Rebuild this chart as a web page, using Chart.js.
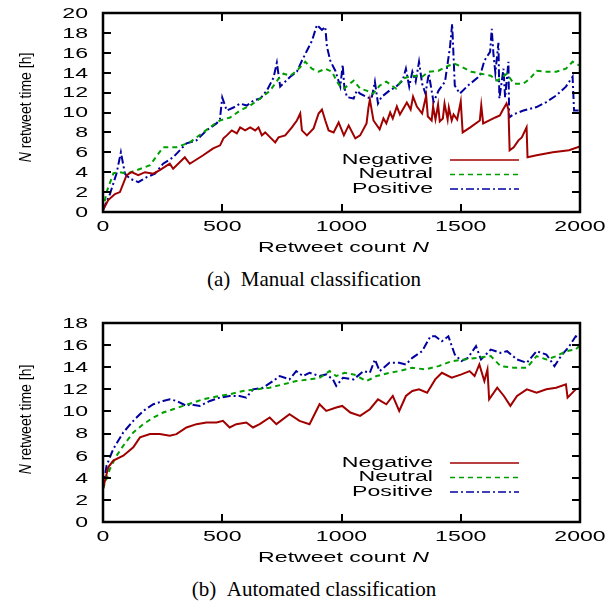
<!DOCTYPE html>
<html lang="en">

<head>
    <meta charset="UTF-8">
    <script src="https://cdn.jsdelivr.net/npm/chart.js"></script>
    <title>Retweet time</title>
    <style>
        body { margin: 0; background: #fff; }
        .container_all { position: relative; width: 614px; height: 607px; }
        canvas { position: absolute; left: 0; }
        #manualChart { top: 0; }
        #autoChart { top: 310px; }
        .caption {
            position: absolute; left: 314px; transform: translate(-50%, -50%);
            font-family: "Liberation Serif", serif; font-size: 21px; white-space: nowrap; color: #000;
        }
    </style>
</head>

<body>
    <div class="container_all">
        <canvas id="manualChart" width="614" height="262"></canvas>
        <div class="caption" style="top: 279px;">(a)&ensp;Manual classification</div>
        <canvas id="autoChart" width="614" height="262"></canvas>
        <div class="caption" style="top: 589px;">(b)&ensp;Automated classification</div>
    </div>

    <script>
        const seriesNames = ['Negative', 'Neutral', 'Positive'];
        const xTicks = [0, 500, 1000, 1500, 2000];

        // (a) manual classification
        const negManualN = [0, 22, 50, 71, 99, 120, 148, 176, 211, 238, 280, 294, 343, 364, 420, 462, 491, 505, 519, 540, 561, 575, 596, 617, 638, 652, 666, 680, 701, 722, 736, 764, 792, 813, 827, 834, 855, 883, 904, 918, 932, 946, 967, 988, 1010, 1030, 1058, 1078, 1105, 1113, 1119, 1134, 1160, 1176, 1188, 1204, 1215, 1232, 1245, 1274, 1290, 1300, 1316, 1338, 1355, 1362, 1378, 1384, 1394, 1405, 1412, 1425, 1432, 1445, 1450, 1462, 1470, 1485, 1500, 1508, 1540, 1580, 1586, 1594, 1620, 1645, 1664, 1675, 1692, 1700, 1705, 1722, 1742, 1756, 1776, 1780, 1818, 1886, 1954, 2000];
        const negManualT = [0.2, 1.2, 1.8, 2.0, 3.7, 4.0, 3.7, 4.0, 3.85, 4.2, 4.85, 4.35, 5.5, 4.85, 5.7, 6.4, 6.7, 7.4, 7.7, 8.2, 7.9, 8.5, 8.2, 8.5, 8.2, 8.5, 7.7, 8.0, 7.5, 7.0, 7.5, 7.7, 8.5, 9.2, 9.9, 8.2, 7.7, 8.4, 9.9, 10.3, 9.2, 8.2, 8.0, 9.0, 7.7, 8.7, 7.4, 7.7, 8.9, 10.5, 11.3, 9.2, 8.3, 9.4, 8.9, 10.0, 9.4, 10.6, 9.8, 11.0, 10.3, 11.6, 10.6, 9.9, 11.7, 9.6, 9.2, 10.6, 9.3, 10.8, 9.1, 9.4, 10.9, 9.3, 10.5, 9.2, 9.8, 9.3, 11.1, 8.0, 8.5, 9.2, 10.7, 8.9, 9.2, 9.5, 9.7, 10.2, 10.9, 10.3, 6.2, 6.5, 7.2, 7.5, 8.5, 5.5, 5.7, 6.0, 6.2, 6.6];
        const neuManualN = [0, 15, 44, 71, 99, 141, 197, 252, 308, 364, 420, 476, 491, 533, 575, 617, 659, 701, 736, 757, 785, 813, 848, 876, 904, 932, 960, 981, 995, 1010, 1051, 1078, 1105, 1133, 1160, 1188, 1229, 1256, 1297, 1338, 1366, 1407, 1448, 1475, 1503, 1544, 1585, 1626, 1653, 1694, 1722, 1763, 1790, 1818, 1859, 1900, 1941, 1969, 2000];
        const neuManualT = [0.2, 2.0, 3.9, 4.0, 3.85, 4.2, 4.7, 6.5, 6.5, 7.0, 8.0, 9.0, 9.2, 9.5, 10.2, 10.7, 11.4, 12.2, 13.4, 13.9, 13.7, 14.2, 15.1, 14.4, 14.1, 14.4, 14.1, 13.1, 12.6, 12.4, 13.2, 12.4, 12.2, 11.9, 12.7, 13.1, 12.4, 13.4, 13.7, 13.6, 14.1, 14.2, 14.7, 14.9, 14.6, 14.1, 13.9, 13.7, 13.2, 13.9, 12.9, 12.9, 13.4, 14.2, 14.1, 14.1, 14.4, 15.1, 14.7];
        const posManualN = [0, 29, 57, 75, 92, 113, 148, 183, 218, 252, 294, 350, 392, 434, 476, 490, 500, 519, 547, 575, 603, 631, 659, 687, 715, 729, 743, 764, 785, 813, 834, 855, 876, 897, 918, 932, 939, 953, 974, 995, 1005, 1012, 1023, 1051, 1064, 1078, 1105, 1126, 1140, 1153, 1167, 1201, 1229, 1256, 1270, 1284, 1297, 1311, 1325, 1338, 1352, 1366, 1386, 1407, 1434, 1455, 1464, 1475, 1496, 1530, 1581, 1599, 1623, 1630, 1637, 1645, 1658, 1662, 1670, 1679, 1686, 1700, 1703, 1720, 1763, 1818, 1859, 1900, 1941, 1969, 1975, 2000];
        const posManualT = [0.2, 1.8, 3.9, 6.0, 3.85, 3.35, 3.0, 3.5, 3.85, 4.85, 5.5, 6.9, 7.2, 8.2, 8.9, 9.3, 11.5, 10.2, 10.5, 10.9, 10.7, 11.2, 11.4, 12.2, 13.5, 15.0, 12.6, 13.1, 13.6, 14.1, 15.2, 16.2, 17.2, 18.8, 18.3, 18.6, 16.6, 15.2, 14.2, 12.6, 14.8, 12.5, 11.55, 11.4, 12.2, 11.9, 11.55, 11.4, 13.1, 10.9, 11.55, 12.2, 12.6, 13.2, 14.4, 12.6, 14.1, 13.1, 15.1, 12.9, 11.9, 13.9, 11.05, 12.2, 13.1, 16.6, 18.9, 12.7, 11.9, 12.7, 13.7, 15.2, 16.1, 18.4, 15.9, 14.0, 17.0, 11.4, 12.8, 14.4, 11.5, 15.1, 9.5, 9.8, 10.2, 10.55, 11.05, 11.7, 12.6, 13.6, 10.2, 10.2];

        // (b) automated classification
        const negAutoN = [0, 22, 43, 85, 127, 155, 197, 238, 280, 308, 350, 392, 434, 476, 503, 531, 559, 601, 629, 657, 699, 727, 782, 824, 866, 908, 936, 978, 1003, 1037, 1078, 1119, 1153, 1188, 1215, 1242, 1270, 1297, 1325, 1359, 1393, 1421, 1462, 1503, 1537, 1558, 1578, 1599, 1612, 1619, 1653, 1681, 1708, 1736, 1777, 1818, 1859, 1900, 1941, 1948, 1982, 2000];
        const negAutoT = [3.0, 4.95, 5.55, 6.0, 6.75, 7.65, 7.95, 7.95, 7.8, 7.95, 8.55, 8.85, 9.0, 9.0, 9.15, 8.55, 8.85, 9.0, 8.55, 8.85, 9.45, 8.85, 9.75, 9.15, 8.85, 10.65, 10.05, 10.35, 10.5, 9.9, 9.6, 10.2, 11.1, 10.65, 11.4, 10.05, 11.4, 11.85, 12.0, 11.7, 12.9, 13.5, 13.05, 13.35, 13.65, 13.2, 14.25, 12.75, 13.8, 11.1, 12.15, 11.4, 10.5, 11.4, 12.0, 11.7, 12.0, 12.15, 12.45, 11.25, 12.0, 12.1];
        const neuAutoN = [0, 29, 57, 85, 127, 169, 211, 252, 294, 336, 378, 420, 476, 531, 587, 643, 699, 755, 810, 866, 908, 950, 978, 1013, 1051, 1105, 1147, 1201, 1242, 1297, 1352, 1407, 1462, 1516, 1571, 1626, 1667, 1722, 1777, 1818, 1859, 1900, 1941, 1982, 2000];
        const neuAutoT = [3.0, 4.8, 6.0, 6.9, 8.1, 8.85, 9.45, 9.9, 10.2, 10.5, 10.8, 11.1, 11.35, 11.55, 11.85, 12.0, 12.15, 12.45, 12.75, 12.9, 13.05, 13.65, 13.2, 13.5, 13.35, 12.75, 13.2, 13.5, 13.65, 13.95, 13.8, 14.1, 14.55, 14.7, 14.85, 15.0, 14.1, 13.95, 13.95, 15.0, 14.7, 15.0, 15.45, 15.6, 16.0];
        const posAutoN = [0, 15, 43, 85, 127, 169, 211, 252, 280, 308, 350, 364, 406, 448, 490, 531, 573, 601, 629, 671, 713, 741, 782, 810, 838, 866, 908, 936, 964, 978, 1006, 1051, 1092, 1119, 1140, 1160, 1201, 1242, 1270, 1297, 1338, 1373, 1393, 1421, 1448, 1475, 1503, 1530, 1564, 1585, 1626, 1667, 1694, 1736, 1777, 1818, 1859, 1893, 1920, 1955, 1982, 2000];
        const posAutoT = [3.0, 5.1, 6.6, 8.1, 9.15, 10.05, 10.65, 10.95, 11.1, 10.95, 10.5, 10.65, 10.5, 10.95, 11.25, 11.4, 11.4, 11.25, 12.0, 12.15, 12.75, 13.2, 12.9, 13.65, 13.2, 13.5, 13.2, 13.35, 12.9, 12.3, 13.05, 12.9, 13.65, 13.5, 14.7, 13.65, 14.4, 14.4, 14.25, 14.85, 15.45, 16.8, 16.8, 16.35, 16.8, 15.15, 14.55, 14.85, 15.9, 14.7, 15.6, 15.3, 15.45, 14.7, 14.4, 15.45, 15.15, 14.1, 15.0, 15.9, 16.8, 16.6];

        const cores = ['#a00000', '#00a000', '#0000a0'];
        const tracos = [[], [5, 4], [8, 3, 2, 3]];
        const SX = 1.65; // labels look stretched sideways in the original

        function pontos(xs, ys) {
            return xs.map((x, i) => ({ x: x, y: ys[i] }));
        }

        function texto(ctx, str, x, y, italico) {
            ctx.save();
            ctx.font = (italico ? 'italic ' : '') + '14px "Liberation Sans", Arial, sans-serif';
            ctx.translate(x, y);
            ctx.scale(SX, 1);
            ctx.fillText(str, 0, 0);
            ctx.restore();
        }

        function largura(ctx, str, italico) {
            ctx.font = (italico ? 'italic ' : '') + '14px "Liberation Sans", Arial, sans-serif';
            return ctx.measureText(str).width * SX;
        }

        // frame, inward ticks, labels and key like the gnuplot original
        const moldura = {
            id: 'moldura',
            afterDatasetsDraw(chart, args, opts) {
                const ctx = chart.ctx;
                const a = chart.chartArea;
                const sx = chart.scales.x, sy = chart.scales.y;
                ctx.save();
                ctx.strokeStyle = '#000';
                ctx.lineWidth = 2;
                ctx.beginPath();
                sx.ticks.forEach(t => {
                    const p = Math.round(sx.getPixelForValue(t.value));
                    ctx.moveTo(p, a.bottom); ctx.lineTo(p, a.bottom - 8);
                    ctx.moveTo(p, a.top); ctx.lineTo(p, a.top + 8);
                });
                sy.ticks.forEach(t => {
                    const p = Math.round(sy.getPixelForValue(t.value));
                    ctx.moveTo(a.left, p); ctx.lineTo(a.left + 8, p);
                    ctx.moveTo(a.right, p); ctx.lineTo(a.right - 8, p);
                });
                ctx.stroke();
                ctx.lineWidth = 2.5;
                ctx.strokeRect(a.left, a.top, a.right - a.left, a.bottom - a.top);

                ctx.fillStyle = '#000';
                ctx.textBaseline = 'middle';

                ctx.textAlign = 'right';
                sy.ticks.forEach(t => {
                    texto(ctx, String(t.value), a.left - 15, sy.getPixelForValue(t.value) + 1);
                });
                ctx.textAlign = 'center';
                sx.ticks.forEach(t => {
                    texto(ctx, String(t.value), sx.getPixelForValue(t.value), a.bottom + 15);
                });

                // x title: Retweet count N
                ctx.textAlign = 'left';
                const w1 = largura(ctx, 'Retweet count '), w2 = largura(ctx, 'N', true);
                const x0 = (a.left + a.right) / 2 + 2 - (w1 + w2) / 2;
                texto(ctx, 'Retweet count ', x0, a.bottom + 36);
                texto(ctx, 'N', x0 + w1, a.bottom + 36, true);

                // y title, rotated
                ctx.save();
                ctx.translate(26, (a.top + a.bottom) / 2 + opts.tituloY);
                ctx.rotate(-Math.PI / 2);
                ctx.scale(1, 1.2);
                ctx.textAlign = 'left';
                ctx.font = 'italic 14px "Liberation Sans", Arial, sans-serif';
                const wn = ctx.measureText('N').width;
                ctx.font = '14px "Liberation Sans", Arial, sans-serif';
                const wr = ctx.measureText(' retweet time [h]').width;
                ctx.font = 'italic 14px "Liberation Sans", Arial, sans-serif';
                ctx.fillText('N', -(wn + wr) / 2, 0);
                ctx.font = '14px "Liberation Sans", Arial, sans-serif';
                ctx.fillText(' retweet time [h]', -(wn + wr) / 2 + wn, 0);
                ctx.restore();

                // key
                chart.data.datasets.forEach((ds, i) => {
                    const yy = a.bottom - opts.legenda[i];
                    ctx.textAlign = 'right';
                    texto(ctx, ds.label, 433, yy);
                    ctx.beginPath();
                    ctx.strokeStyle = ds.borderColor;
                    ctx.lineWidth = 1.5;
                    ctx.setLineDash(ds.borderDash);
                    ctx.moveTo(450, yy); ctx.lineTo(519, yy);
                    ctx.stroke();
                    ctx.setLineDash([]);
                });
                ctx.restore();
            }
        };

        function gerarGrafico(id, series, yMax, legenda, tituloY) {
            const ctx = document.getElementById(id).getContext('2d');
            new Chart(ctx, {
                type: 'line',
                data: {
                    datasets: series.map((s, i) => ({
                        label: seriesNames[i],
                        data: pontos(s[0], s[1]),
                        borderColor: cores[i],
                        borderDash: tracos[i],
                        borderWidth: 2,
                        pointRadius: 0,
                        tension: 0,
                        fill: false
                    }))
                },
                options: {
                    responsive: false,
                    animation: false,
                    layout: { padding: { top: 13, right: 34, left: 0, bottom: 0 } },
                    plugins: {
                        legend: { display: false },
                        tooltip: { enabled: false },
                        moldura: { legenda: legenda, tituloY: tituloY }
                    },
                    scales: {
                        x: {
                            type: 'linear', min: 0, max: 2000,
                            afterBuildTicks: s => { s.ticks = xTicks.map(v => ({ value: v })); },
                            ticks: { display: false },
                            grid: { display: false },
                            border: { display: false },
                            afterFit: s => { s.height = 50; }
                        },
                        y: {
                            min: 0, max: yMax,
                            ticks: { display: false, stepSize: 2 },
                            grid: { display: false },
                            border: { display: false },
                            afterFit: s => { s.width = 103; }
                        }
                    }
                },
                plugins: [moldura]
            });
        }

        gerarGrafico('manualChart', [[negManualN, negManualT], [neuManualN, neuManualT], [posManualN, posManualT]], 20, [52, 37.5, 23], -5);
        gerarGrafico('autoChart', [[negAutoN, negAutoT], [neuAutoN, neuAutoT], [posAutoN, posAutoT]], 18, [59, 44.5, 30], -3);
    </script>
</body>

</html>
